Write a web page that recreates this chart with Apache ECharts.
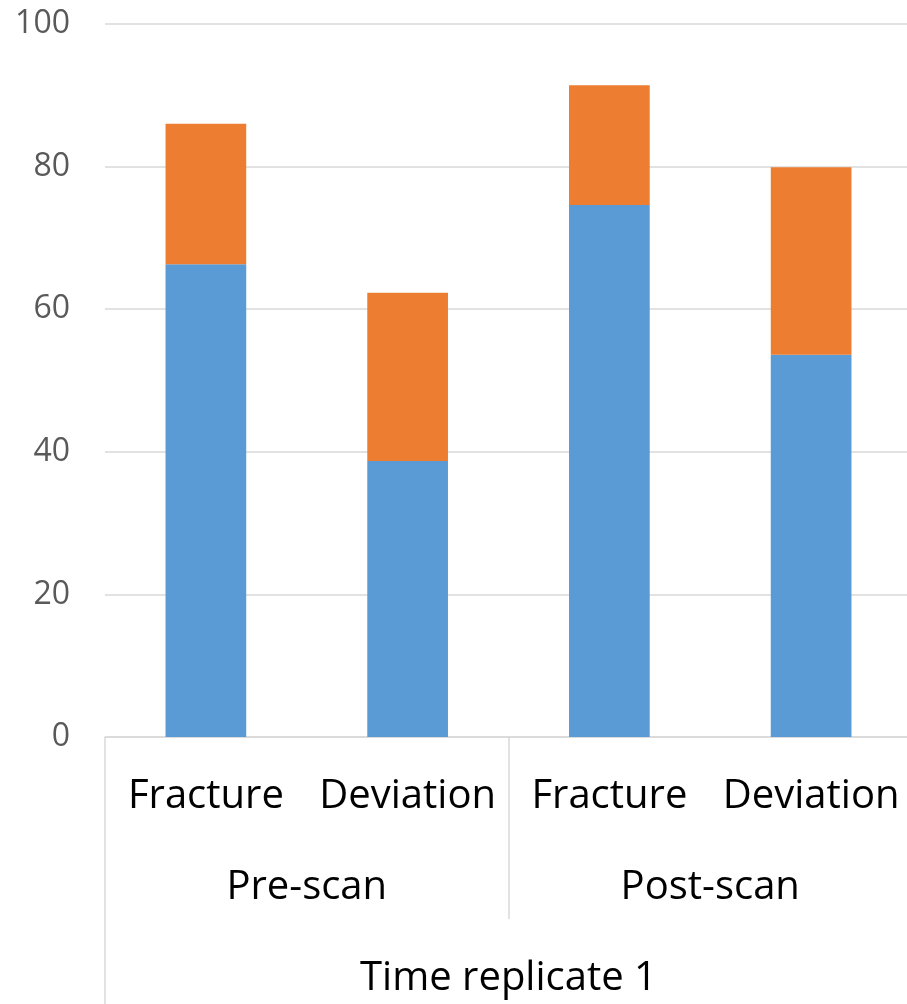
<!DOCTYPE html>
<html>
<head>
<meta charset="utf-8">
<script src="https://cdn.jsdelivr.net/npm/echarts@6/dist/echarts.min.js"></script>
<style>
  html, body { margin: 0; padding: 0; background: #fff; overflow: hidden; }
  /* a bit wider than the window: the plot runs past the right edge */
  #chart { width: 912px; height: 1004px; }
</style>
</head>
<body>
<div id="chart"></div>
<script>
// data
const categories = ['Fracture', 'Deviation', 'Fracture', 'Deviation']
const groups = ['Pre-scan', 'Post-scan']
const outerGroup = ['Time replicate 1']
const seriesA = [66.3, 38.7, 74.6, 53.6]   // blue, bottom part
const seriesB = [19.7, 23.6, 16.8, 26.3]   // orange, stacked on top
const yTicks = { min: 0, max: 100, interval: 20 }

const lineColor = '#d9d9d9'
const font = '"Open Sans", "Noto Sans", sans-serif'

const chart = echarts.init(document.getElementById('chart'))

chart.setOption({
  animation: false,
  grid: {
    top: 24,
    bottom: 267,
    left: 105,
    right: 0,
    containLabel: false
  },
  xAxis: [
    {
      // lower level: Fracture / Deviation
      type: 'category',
      data: categories,
      position: 'bottom',
      axisLine: { lineStyle: { color: lineColor, width: 1.5 } },
      axisTick: { show: false },
      axisLabel: {
        color: '#000',
        fontFamily: font,
        fontSize: 40,
        verticalAlign: 'middle',
        margin: 60,
        interval: 0
      }
    },
    {
      // middle level: Pre-scan / Post-scan
      type: 'category',
      data: groups,
      position: 'bottom',
      axisLine: { show: false },
      axisTick: {
        show: true,
        length: 182,
        lineStyle: { color: lineColor, width: 1.5 }
      },
      axisLabel: {
        color: '#000',
        fontFamily: font,
        fontSize: 40,
        verticalAlign: 'middle',
        margin: 151,
        interval: 0
      }
    },
    {
      // top level: Time replicate 1
      type: 'category',
      data: outerGroup,
      position: 'bottom',
      axisLine: { show: false },
      axisTick: {
        show: true,
        length: 300,
        lineStyle: { color: lineColor, width: 1.5 }
      },
      axisLabel: {
        color: '#000',
        fontFamily: font,
        fontSize: 40,
        verticalAlign: 'middle',
        margin: 242
      }
    }
  ],
  yAxis: {
    type: 'value',
    min: yTicks.min,
    max: yTicks.max,
    interval: yTicks.interval,
    axisLine: { show: false },
    axisTick: { show: false },
    axisLabel: {
      color: '#595959',
      fontFamily: font,
      fontSize: 32,
      margin: 35
    },
    splitLine: { lineStyle: { color: lineColor, width: 1.5 } }
  },
  series: [
    {
      name: 'A',
      type: 'bar',
      stack: 'total',
      xAxisIndex: 0,
      barWidth: '40%',
      data: seriesA,
      itemStyle: { color: '#5b9bd5' }
    },
    {
      name: 'B',
      type: 'bar',
      stack: 'total',
      xAxisIndex: 0,
      barWidth: '40%',
      data: seriesB,
      itemStyle: { color: '#ed7d31' }
    }
  ]
})
</script>
</body>
</html>
